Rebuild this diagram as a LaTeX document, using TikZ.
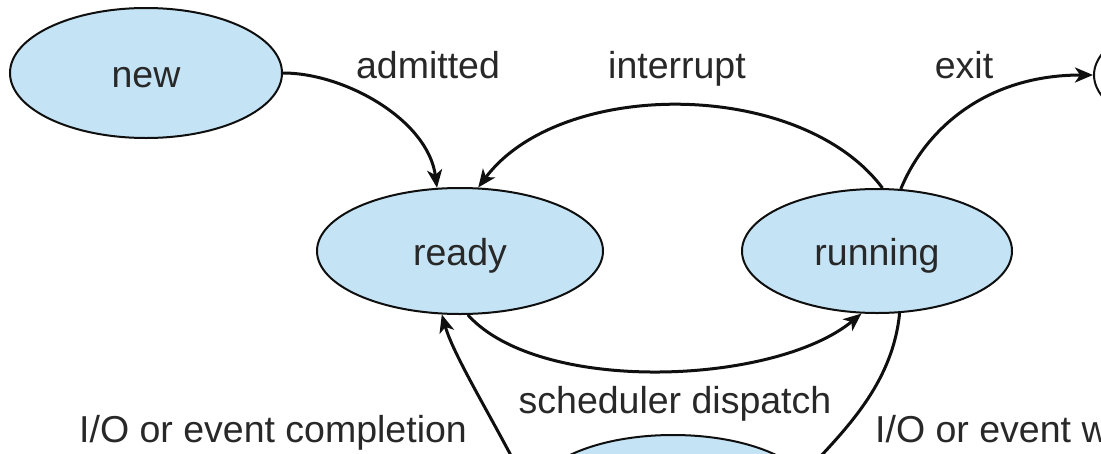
\documentclass[tikz,border=0pt]{standalone}
\usepackage{fontspec}
\setmainfont{Liberation Sans}
\usetikzlibrary{shapes.geometric,arrows.meta}
\definecolor{stfill}{RGB}{196,228,246}
\definecolor{txt}{RGB}{40,40,40}
\definecolor{ln}{RGB}{15,15,15}
\tikzset{
 state/.style={ellipse, draw=ln, line width=2pt, fill=stfill, inner sep=0pt, text=txt,
   font=\fontsize{37.5}{45}\selectfont, text height=28pt, text depth=0pt},
 lbl/.style={text=txt, font=\fontsize{37.5}{45}\selectfont, inner sep=0pt, anchor=base},
 arr/.style={draw=ln, line width=3pt, -{Stealth[length=18pt,width=15pt,inset=5pt]}}
}
\begin{document}
\begin{tikzpicture}[x=1pt,y=-1pt]
\useasboundingbox (0,0) rectangle (1101,453);
\clip (0,0) rectangle (1101,453);
\fill[white] (0,0) rectangle (1101,453);
% states
\node[state, minimum width=272pt, minimum height=130pt] (new) at (146,73) {new};
\node[state, minimum width=286pt, minimum height=126pt] (ready) at (460,251) {ready};
\node[state, minimum width=270pt, minimum height=124pt] (running) at (877,251) {running};
\node[state, minimum width=280pt, minimum height=124pt] (waiting) at (673,497) {};
\node[state, fill=white, minimum width=270pt, minimum height=124pt] (terminated) at (1229,75) {};
% transitions
\draw[arr] (new.east) .. controls (345,73) and (428,120) .. (ready.110);
\draw[arr] (running.85) .. controls (800,78) and (560,78) .. (ready.74);
\draw[arr] (running.69) .. controls (925,130) and (985,75) .. (terminated.west);
\draw[arr] (ready.-83) .. controls (540,395) and (775,385) .. (running.-104);
\draw[arr] (running.-70) .. controls (893,380) and (850,425) .. (waiting.10);
\draw[arr] (waiting.west) .. controls (500,430) and (455,360) .. (ready.-106);
% labels
\node[lbl] (admitted) at (428,78) {admitted};
\node[lbl] (interrupt) at (677,78) {interrupt};
\node[lbl] (exit) at (964,78) {exit};
\node[lbl] (dispatch) at (675,413) {scheduler dispatch};
\node[lbl] (completion) at (273,442) {I/O or event completion};
\node[lbl, anchor=base west] (waitlbl) at (875,442) {I/O or event w};
\end{tikzpicture}
\end{document}
